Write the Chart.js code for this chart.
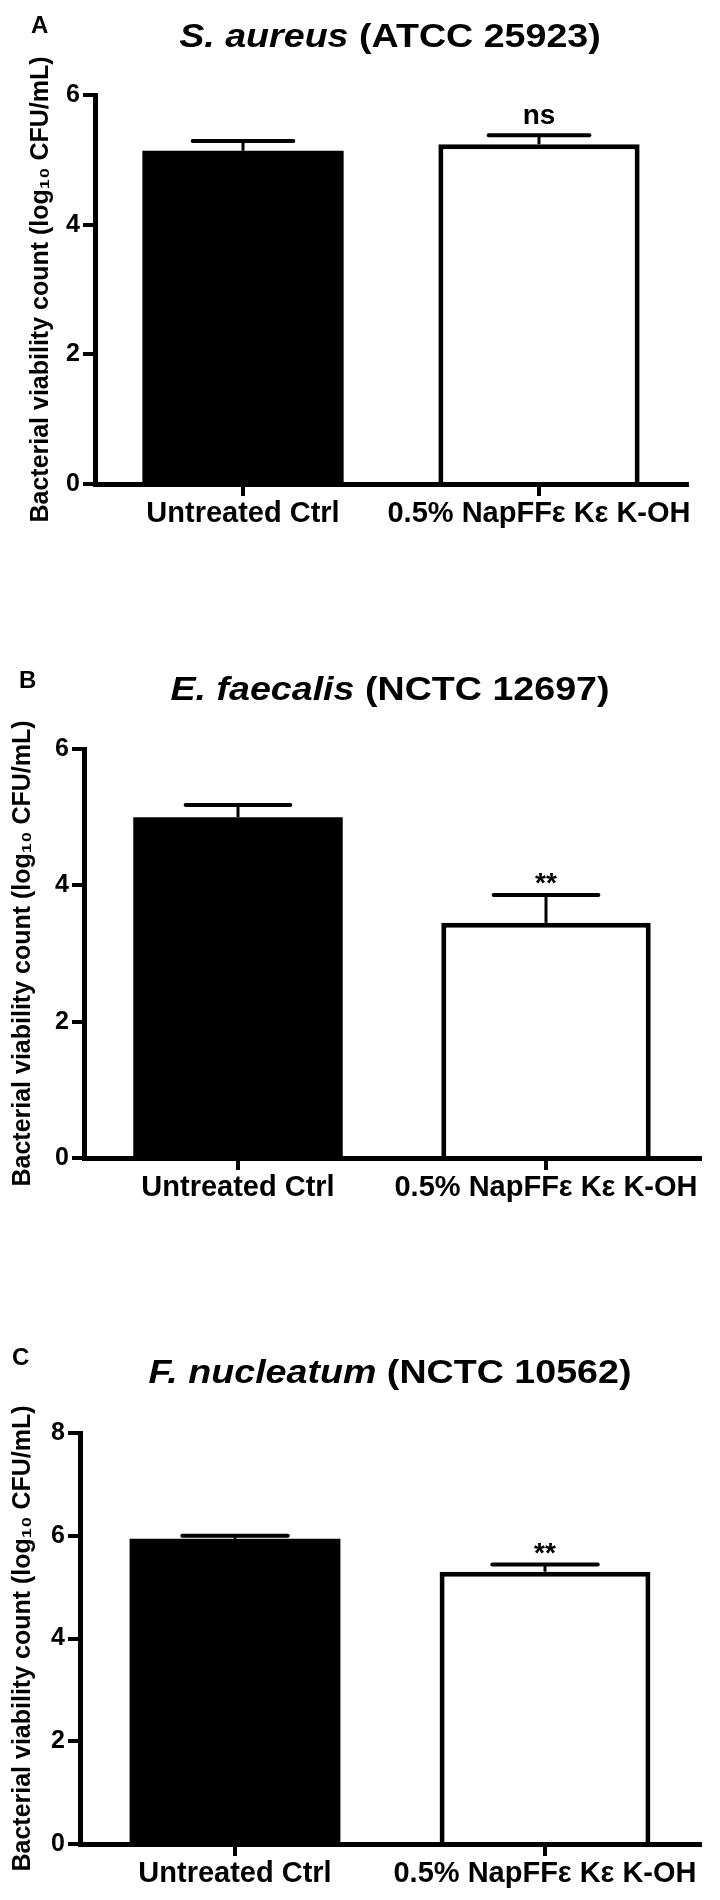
<!DOCTYPE html>
<html>
<head>
<meta charset="utf-8">
<script src="https://cdn.jsdelivr.net/npm/chart.js@4.4.1/dist/chart.umd.min.js"></script>
<style>
body { margin: 0; background: #fff; width: 720px; height: 1900px; position: relative; overflow: hidden;
       font-family: 'Liberation Sans', Arial, sans-serif; color: #000; }
canvas { position: absolute; left: 0; }
.title { position: absolute; white-space: nowrap; font-weight: bold; font-size: 33px; line-height: 33px;
         transform: translateX(-50%) scaleX(1.14); }
.letter { position: absolute; font-weight: bold; font-size: 24px; line-height: 24px; }
</style>
</head>
<body>
<canvas id="chartA" width="720" height="560" style="top:0px"></canvas>
<canvas id="chartB" width="720" height="600" style="top:620px"></canvas>
<canvas id="chartC" width="720" height="610" style="top:1290px"></canvas>

<div class="letter" style="left:31px;top:13px">A</div>
<div class="title" style="left:390px;top:19px"><i>S. aureus</i> (ATCC 25923)</div>
<div class="letter" style="left:19px;top:668px">B</div>
<div class="title" style="left:390px;top:672px"><i>E. faecalis</i> (NCTC 12697)</div>
<div class="letter" style="left:12px;top:1345px">C</div>
<div class="title" style="left:390px;top:1355px"><i>F. nucleatum</i> (NCTC 10562)</div>

<script>
const categories = ["Untreated Ctrl", "0.5% NapFFε Kε K-OH"];

const aureusMeans = [5.14, 5.24];
const aureusErrors = [0.15, 0.14];
const aureusMarks = ["", "ns"];

const faecalisMeans = [5.00, 3.45];
const faecalisErrors = [0.18, 0.41];
const faecalisMarks = ["", "**"];

const nucleatumMeans = [5.94, 5.30];
const nucleatumErrors = [0.06, 0.14];
const nucleatumMarks = ["", "**"];

const yMaxA = 6;
const yMaxB = 6;
const yMaxC = 8;
const yStep = 2;
const yTitle = "Bacterial viability count (log₁₀ CFU/mL)";

const FONT = "'Liberation Sans', Arial, sans-serif";

// SEM whiskers + significance marks, placed with the chart's own y scale
function makeErrorBars(errors, marks) {
    return {
        id: "errorBars",
        afterDatasetsDraw(chart) {
            const ctx = chart.ctx;
            const y = chart.scales.y;
            const means = chart.data.datasets[0].data;
            const bars = chart.getDatasetMeta(0).data;
            ctx.save();
            ctx.strokeStyle = "#000";
            ctx.fillStyle = "#000";
            bars.forEach((bar, i) => {
                const yTop = y.getPixelForValue(means[i]);
                const yCap = y.getPixelForValue(means[i] + errors[i]);
                const half = bar.width / 4;
                ctx.lineWidth = 3;
                ctx.lineCap = "butt";
                ctx.beginPath();
                ctx.moveTo(bar.x, yTop);
                ctx.lineTo(bar.x, yCap);
                ctx.stroke();
                ctx.lineWidth = 4;
                ctx.lineCap = "round";
                ctx.beginPath();
                ctx.moveTo(bar.x - half, yCap);
                ctx.lineTo(bar.x + half, yCap);
                ctx.stroke();
                if (marks[i]) {
                    ctx.font = "bold 28px " + FONT;
                    ctx.textAlign = "center";
                    ctx.textBaseline = "alphabetic";
                    const m = ctx.measureText(marks[i]);
                    ctx.fillText(marks[i], bar.x, yCap - 11 - m.actualBoundingBoxDescent);
                }
            });
            ctx.restore();
        }
    };
}

function drawPanel(id, means, errors, marks, yMax, box) {
    return new Chart(document.getElementById(id), {
        type: "bar",
        data: {
            labels: categories,
            datasets: [{
                data: means,
                backgroundColor: ["#000", "#fff"],
                borderColor: "#000",
                borderWidth: [0, 5],
                barPercentage: 1,
                categoryPercentage: 0.68
            }]
        },
        options: {
            responsive: false,
            animation: false,
            devicePixelRatio: 1,
            layout: { padding: { left: 0, top: box.top, right: box.right, bottom: box.bottom } },
            plugins: { legend: { display: false }, tooltip: { enabled: false } },
            scales: {
                x: {
                    z: 1,
                    offset: true,
                    grid: { display: true, offset: false, drawOnChartArea: false, drawTicks: true,
                            tickLength: 12, lineWidth: 4, color: "#000" },
                    border: { display: true, color: "#000", width: 5 },
                    ticks: { color: "#000", font: { family: FONT, size: 29, weight: "bold" },
                             padding: 1, maxRotation: 0, autoSkip: false },
                    afterFit(s) { s.height = box.xHeight; }
                },
                y: {
                    min: 0,
                    max: yMax,
                    ticks: { stepSize: yStep, color: "#000", font: { family: FONT, size: 25, weight: "bold" }, padding: 3 },
                    grid: { drawOnChartArea: false, drawTicks: true, tickLength: 12, lineWidth: 4, color: "#000" },
                    border: { display: true, color: "#000", width: 5 },
                    title: { display: true, text: yTitle, color: "#000",
                             font: { family: FONT, size: 25, weight: "bold" },
                             padding: { top: box.titlePad, bottom: 0 } },
                    afterFit(s) { s.width = box.left; }
                }
            }
        },
        plugins: [makeErrorBars(errors, marks)]
    });
}

drawPanel("chartA", aureusMeans, aureusErrors, aureusMarks, yMaxA,
    { left: 95, right: 33, top: 95, bottom: 16, xHeight: 60, titlePad: 26 });
drawPanel("chartB", faecalisMeans, faecalisErrors, faecalisMarks, yMaxB,
    { left: 84, right: 20, top: 129, bottom: 2, xHeight: 60, titlePad: 8 });
drawPanel("chartC", nucleatumMeans, nucleatumErrors, nucleatumMarks, yMaxC,
    { left: 80, right: 20, top: 143, bottom: 6, xHeight: 50, titlePad: 8 });
</script>
</body>
</html>
